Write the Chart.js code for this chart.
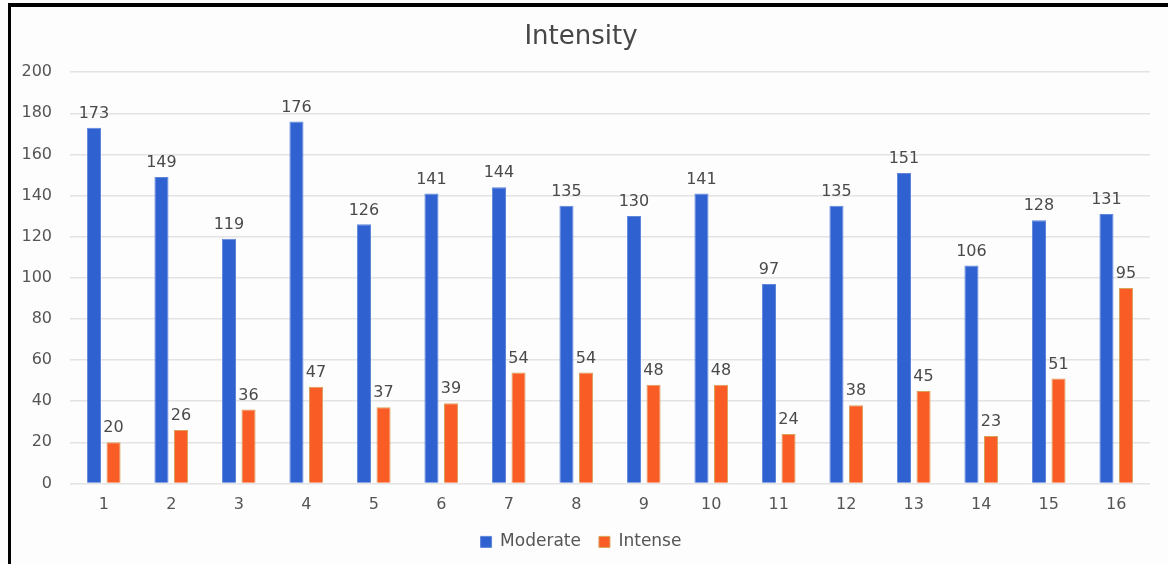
<!DOCTYPE html>
<html>
<head>
<meta charset="utf-8">
<script src="https://cdn.jsdelivr.net/npm/chart.js@4.4.1/dist/chart.umd.min.js"></script>
<style>
  html, body { margin: 0; padding: 0; background: #fdfdfd; }
  #wrap { position: relative; width: 1168px; height: 564px; }
  #frame {
    position: absolute; left: 8px; top: 3px; right: 0; bottom: 0;
    border-left: 3px solid #000; border-top: 4px solid #000;
    pointer-events: none;
  }
  canvas { position: absolute; left: 0; top: 0; }
</style>
</head>
<body>
<div id="wrap">
  <canvas id="chart" width="1168" height="564"></canvas>
  <div id="frame"></div>
</div>
<script>
const categories = ['1','2','3','4','5','6','7','8','9','10','11','12','13','14','15','16'];
const moderate = [173,149,119,176,126,141,144,135,130,141,97,135,151,106,128,131];
const intense  = [20,26,36,47,37,39,54,54,48,48,24,38,45,23,51,95];
const yTicks   = [0,20,40,60,80,100,120,140,160,180,200];

const FONT = '"DejaVu Sans", Verdana, sans-serif';

// Writes each bar's value just above its top edge
const valueLabels = {
  id: 'valueLabels',
  afterDatasetsDraw(chart) {
    const ctx = chart.ctx;
    ctx.save();
    ctx.font = '16px ' + FONT;
    ctx.fillStyle = '#4a4a4a';
    ctx.textAlign = 'center';
    ctx.textBaseline = 'bottom';
    chart.data.datasets.forEach((ds, i) => {
      const meta = chart.getDatasetMeta(i);
      meta.data.forEach((bar, j) => {
        ctx.fillText(String(ds.data[j]), bar.x, bar.y - 6);
      });
    });
    ctx.restore();
  }
};

new Chart(document.getElementById('chart'), {
  type: 'bar',
  data: {
    labels: categories,
    datasets: [
      {
        label: 'Moderate',
        data: moderate,
        backgroundColor: '#2F62D0',
        borderColor: '#5F86DA',
        borderWidth: 1
      },
      {
        label: 'Intense',
        data: intense,
        backgroundColor: '#FA5C26',
        borderColor: '#D9A15A',
        borderWidth: 1
      }
    ]
  },
  options: {
    responsive: false,
    animation: false,
    categoryPercentage: 0.58,
    barPercentage: 0.72,
    layout: { padding: { left: 12, right: 18, top: 0, bottom: 3.6 } },
    plugins: {
      title: {
        display: true,
        text: 'Intensity',
        color: '#474747',
        font: { family: FONT, size: 26, weight: 'normal' },
        padding: { top: 22, bottom: 19 }
      },
      legend: {
        position: 'bottom',
        labels: {
          color: '#555',
          font: { family: FONT, size: 17 },
          boxWidth: 11,
          boxHeight: 11,
          padding: 18
        }
      },
      tooltip: { enabled: false }
    },
    scales: {
      x: {
        afterFit(scale) { scale.height = 32; },
        grid: { display: false, drawTicks: false },
        border: { display: false },
        ticks: { color: '#555', font: { family: FONT, size: 16 }, padding: 11.5 }
      },
      y: {
        min: 0,
        max: 200,
        afterBuildTicks(scale) { scale.ticks = yTicks.map(v => ({ value: v })); },
        afterFit(scale) { scale.width = 58; },
        grid: { color: '#e3e3e3', lineWidth: 1.5, drawTicks: false },
        border: { display: false },
        ticks: { color: '#555', font: { family: FONT, size: 16 }, padding: 18 }
      }
    }
  },
  plugins: [valueLabels]
});
</script>
</body>
</html>
